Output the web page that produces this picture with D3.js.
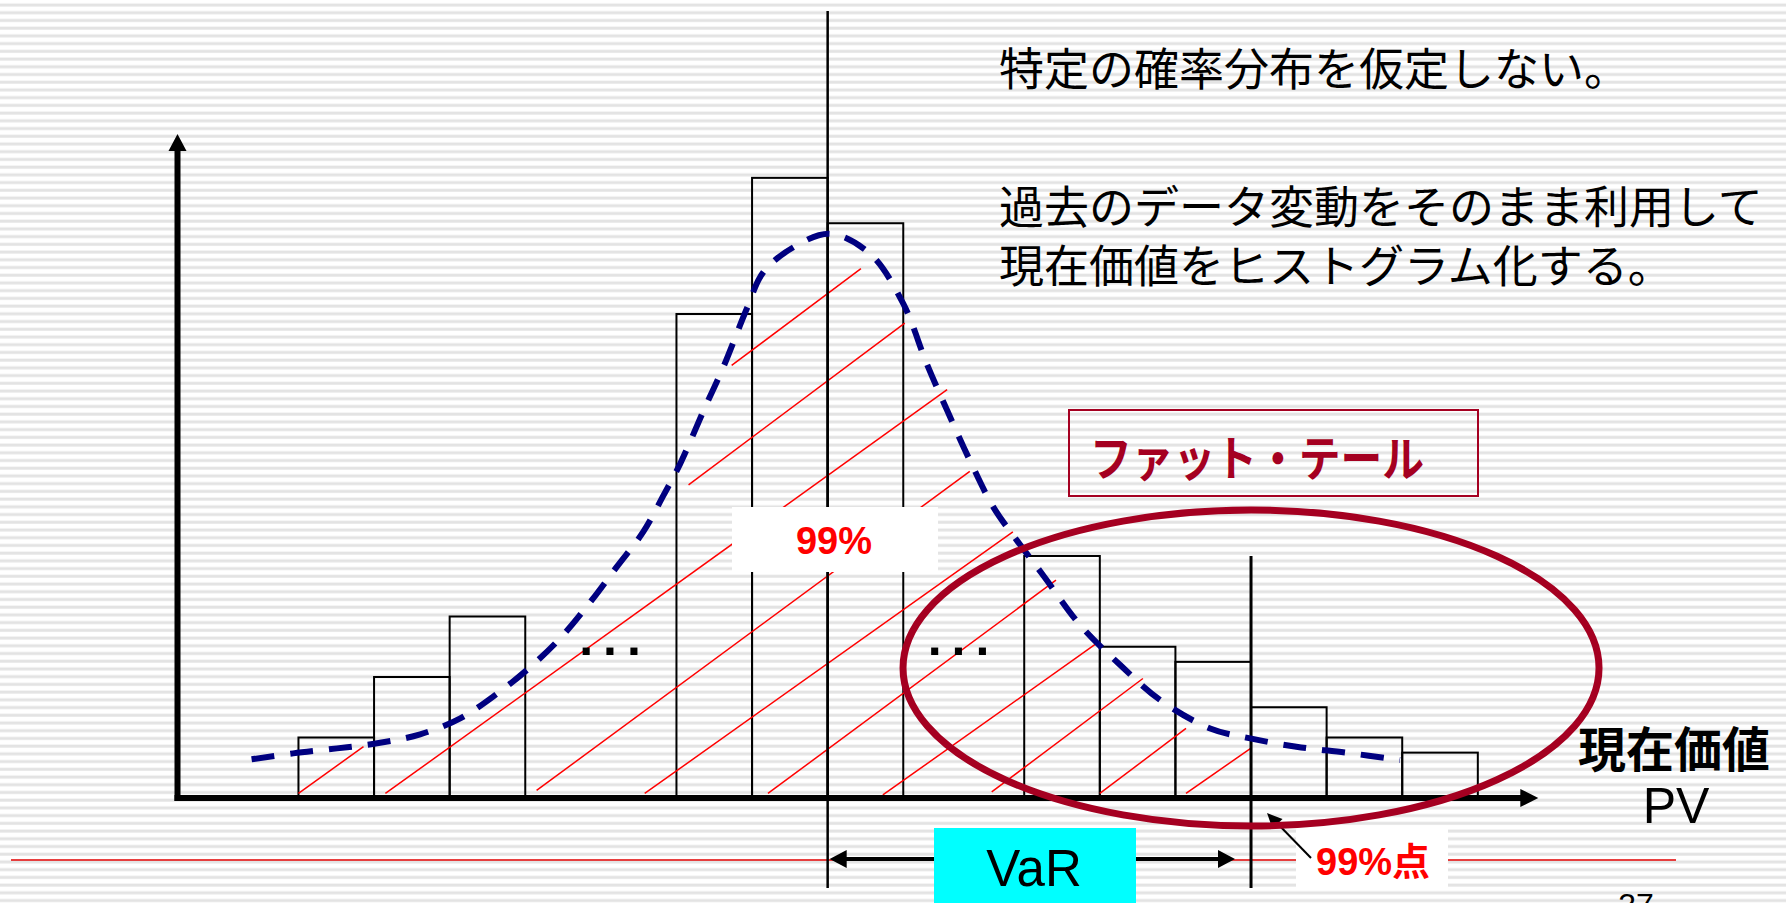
<!DOCTYPE html>
<html>
<head>
<meta charset="utf-8">
<script src="https://cdn.jsdelivr.net/npm/d3@7"></script>
<style>
  body { margin: 0; background: #fff; }
  svg { display: block; }
</style>
</head>
<body>
<div id="chart"></div>
<script>
const width = 1786;
const height = 903;

// histogram bins (left edge, in bin-width units) and their counts
const binStarts = [1.6, 2.6, 3.6, 6.6, 7.6, 8.6, 11.2, 12.2, 13.2, 14.2, 15.2, 16.2];
const counts = [4, 8, 12, 32, 41, 38, 16, 10, 9, 6, 4, 3];

// dashed density curve drawn over the histogram
const curveX = [0.98, 1.53, 2.11, 2.68, 3.21, 3.74, 4.22, 4.66, 5.08, 5.48, 5.81, 6.16,
                6.43, 6.65, 6.98, 7.22, 7.53, 7.75, 8.15, 8.63, 9.16, 9.60, 9.91, 10.18,
                10.48, 10.79, 11.10, 11.45, 11.94, 12.47, 13.00, 13.66, 14.19, 14.80, 15.47, 16.17];
const curveY = [2.56, 2.95, 3.28, 3.65, 4.21, 5.27, 6.87, 8.63, 10.66, 13.08, 15.28, 17.59,
                20.02, 22.11, 25.85, 28.49, 32.35, 34.77, 36.42, 37.31, 35.99, 32.68, 28.72, 25.63,
                22.33, 19.25, 17.05, 14.73, 11.43, 8.79, 6.47, 4.60, 3.94, 3.39, 2.99, 2.51];

// red hatching of the 99% area (segment start / end)
const hatchX0 = [7.33, 6.76, 1.60, 2.75, 4.75, 6.18, 7.81, 9.33, 10.77, 12.20, 13.34];
const hatchY0 = [28.6, 20.7, 0.3, 0.3, 0.5, 0.3, 0.3, 0.2, 0.4, 0.3, 0.3];
const hatchX1 = [9.04, 9.62, 2.46, 10.18, 10.48, 11.05, 11.62, 12.18, 12.77, 13.34, 14.20];
const hatchY1 = [35.0, 31.4, 3.4, 27.0, 21.6, 17.6, 14.4, 10.3, 7.9, 4.6, 3.3];

// reference positions on the value axis
const meanX = 8.6;
const var99X = 14.2;
const dotsX = [5.36, 9.97];
const dotsY = 9.65;

// texts
const noteLines = ["特定の確率分布を仮定しない。", "過去のデータ変動をそのまま利用して", "現在価値をヒストグラム化する。"];
const fatTailLabel = "ファット・テール";
const axisLabel = ["現在価値", "PV"];
const centerLabel = "99%";
const pointLabel = "99%点";
const varLabel = "VaR";
const pageNumber = "37";

const darkRed = "#a50021";
const jpFont = "'Noto Sans CJK JP', sans-serif";
const latinFont = "'Liberation Sans', Arial, 'Noto Sans CJK JP', sans-serif";

const x = d3.scaleLinear().domain([0, 18]).range([177.5, 1538.3]);
const y = d3.scaleLinear().domain([0, 43.9]).range([798, 134]);

const svg = d3.select("#chart")
    .append("svg")
    .attr("width", width)
    .attr("height", height);

// striped slide background
const defs = svg.append("defs");
const pattern = defs.append("pattern")
    .attr("id", "stripes")
    .attr("patternUnits", "userSpaceOnUse")
    .attr("width", 20)
    .attr("height", 7.72);
pattern.append("rect").attr("y", 3.5).attr("width", 20).attr("height", 3).attr("fill", "#e3e3e3");

svg.append("rect").attr("width", width).attr("height", height).attr("fill", "#fff");
svg.append("rect").attr("width", width).attr("height", height).attr("fill", "url(#stripes)");

// thin red rule of the slide
svg.append("line")
    .attr("x1", 11).attr("x2", 1676)
    .attr("y1", 860).attr("y2", 860)
    .attr("stroke", "#e00000")
    .attr("stroke-width", 1.5);

// histogram bars
svg.append("g")
    .selectAll("rect")
    .data(binStarts.map((b, i) => ({ start: b, count: counts[i] })))
    .enter()
    .append("rect")
    .attr("x", d => x(d.start))
    .attr("y", d => y(d.count))
    .attr("width", d => x(d.start + 1) - x(d.start))
    .attr("height", d => y(0) - y(d.count))
    .attr("fill", "none")
    .attr("stroke", "#000")
    .attr("stroke-width", 2);

// hatching
svg.append("g")
    .selectAll("line")
    .data(hatchX0.map((v, i) => i))
    .enter()
    .append("line")
    .attr("x1", i => x(hatchX0[i]))
    .attr("y1", i => y(hatchY0[i]))
    .attr("x2", i => x(hatchX1[i]))
    .attr("y2", i => y(hatchY1[i]))
    .attr("stroke", "#ff0000")
    .attr("stroke-width", 1.5);

// mean and 99% lines
svg.append("line")
    .attr("x1", x(meanX)).attr("x2", x(meanX))
    .attr("y1", 11).attr("y2", 888)
    .attr("stroke", "#000").attr("stroke-width", 2.5);

svg.append("line")
    .attr("x1", x(var99X)).attr("x2", x(var99X))
    .attr("y1", y(16)).attr("y2", 888)
    .attr("stroke", "#000").attr("stroke-width", 3);

// dashed curve
const line = d3.line()
    .x(d => x(d[0]))
    .y(d => y(d[1]))
    .curve(d3.curveCatmullRom.alpha(0.5));

svg.append("path")
    .datum(curveX.map((v, i) => [v, curveY[i]]))
    .attr("d", line)
    .attr("fill", "none")
    .attr("stroke", "#000080")
    .attr("stroke-width", 6)
    .attr("stroke-dasharray", "23 16");

// "..." between groups of bins
svg.append("g")
    .selectAll("text")
    .data(dotsX)
    .enter()
    .append("text")
    .attr("x", d => x(d) - 3.5)
    .attr("y", y(dotsY) + 3)
    .attr("font-family", latinFont)
    .attr("font-weight", "bold")
    .attr("font-size", 50)
    .attr("letter-spacing", 10)
    .attr("fill", "#000")
    .text("...");

// 99% label in the middle
svg.append("rect")
    .attr("x", 732).attr("y", 507)
    .attr("width", 206).attr("height", 65)
    .attr("fill", "#fff");
svg.append("text")
    .attr("x", 834).attr("y", 554)
    .attr("text-anchor", "middle")
    .attr("font-family", latinFont)
    .attr("font-weight", "bold")
    .attr("font-size", 38)
    .attr("fill", "#ff0000")
    .text(centerLabel);

// arrowhead helper: tip at (tx, ty), pointing along (dx, dy)
function arrowHead(tx, ty, dx, dy, len, half) {
    const bx = tx - dx * len, by = ty - dy * len;
    const px = -dy * half, py = dx * half;
    svg.append("path")
        .attr("d", `M${tx},${ty}L${bx + px},${by + py}L${bx - px},${by - py}Z`)
        .attr("fill", "#000");
}

// axes
svg.append("line")
    .attr("x1", x(0) - 3).attr("x2", x(18) - 16)
    .attr("y1", y(0)).attr("y2", y(0))
    .attr("stroke", "#000").attr("stroke-width", 6);
arrowHead(x(18), y(0), 1, 0, 18, 9);

svg.append("line")
    .attr("x1", x(0)).attr("x2", x(0))
    .attr("y1", y(0) + 3).attr("y2", y(43.9) + 16)
    .attr("stroke", "#000").attr("stroke-width", 6);
arrowHead(x(0), y(43.9), 0, -1, 17, 9);

// VaR double arrow
const varY = 859;
svg.append("line")
    .attr("x1", x(meanX) + 16).attr("x2", x(var99X) - 30)
    .attr("y1", varY).attr("y2", varY)
    .attr("stroke", "#000").attr("stroke-width", 4);
arrowHead(x(meanX) + 2, varY, -1, 0, 17, 9);
arrowHead(x(var99X) - 16, varY, 1, 0, 17, 9);

svg.append("rect")
    .attr("x", 934).attr("y", 828)
    .attr("width", 202).attr("height", 80)
    .attr("fill", "#00ffff");
svg.append("text")
    .attr("x", 1034).attr("y", 886)
    .attr("text-anchor", "middle")
    .attr("font-family", latinFont)
    .attr("font-size", 51)
    .attr("fill", "#000")
    .text(varLabel);

// 99% point label with pointer
svg.append("rect")
    .attr("x", 1296).attr("y", 828)
    .attr("width", 152).attr("height", 60)
    .attr("fill", "#fff");
svg.append("text")
    .attr("x", 1316).attr("y", 875)
    .attr("font-family", latinFont)
    .attr("font-weight", "bold")
    .attr("font-size", 38)
    .attr("fill", "#ff0000")
    .text(pointLabel);
svg.append("line")
    .attr("x1", 1311).attr("y1", 858)
    .attr("x2", 1275).attr("y2", 821)
    .attr("stroke", "#000").attr("stroke-width", 2);
arrowHead(x(var99X) + 16, 813, -0.7, -0.72, 15, 7);

// right-hand notes
svg.append("g")
    .selectAll("text")
    .data(noteLines)
    .enter()
    .append("text")
    .attr("x", 999)
    .attr("y", (d, i) => [86, 224, 283][i])
    .attr("font-family", jpFont)
    .attr("font-size", 45)
    .attr("fill", "#000")
    .text(d => d);

// fat tail box
svg.append("rect")
    .attr("x", 1069).attr("y", 410)
    .attr("width", 409).attr("height", 86)
    .attr("fill", "none")
    .attr("stroke", darkRed)
    .attr("stroke-width", 2);
svg.append("text")
    .attr("x", 1090).attr("y", 476)
    .attr("font-family", jpFont)
    .attr("font-weight", "bold")
    .attr("font-size", 48)
    .attr("textLength", 334)
    .attr("lengthAdjust", "spacingAndGlyphs")
    .attr("fill", darkRed)
    .text(fatTailLabel);

// axis label
svg.append("text")
    .attr("x", 1674).attr("y", 767)
    .attr("text-anchor", "middle")
    .attr("font-family", jpFont)
    .attr("font-weight", "bold")
    .attr("font-size", 48)
    .attr("fill", "#000")
    .text(axisLabel[0]);
svg.append("text")
    .attr("x", 1676).attr("y", 823)
    .attr("text-anchor", "middle")
    .attr("font-family", latinFont)
    .attr("font-size", 50)
    .attr("fill", "#000")
    .text(axisLabel[1]);

// page number (cut off at the bottom)
svg.append("text")
    .attr("x", 1636).attr("y", 916)
    .attr("text-anchor", "middle")
    .attr("font-family", latinFont)
    .attr("font-size", 32)
    .attr("fill", "#000")
    .text(pageNumber);

// fat tail ellipse
svg.append("ellipse")
    .attr("cx", x(var99X)).attr("cy", 668)
    .attr("rx", 348).attr("ry", 158)
    .attr("fill", "none")
    .attr("stroke", darkRed)
    .attr("stroke-width", 7);
</script>
</body>
</html>
